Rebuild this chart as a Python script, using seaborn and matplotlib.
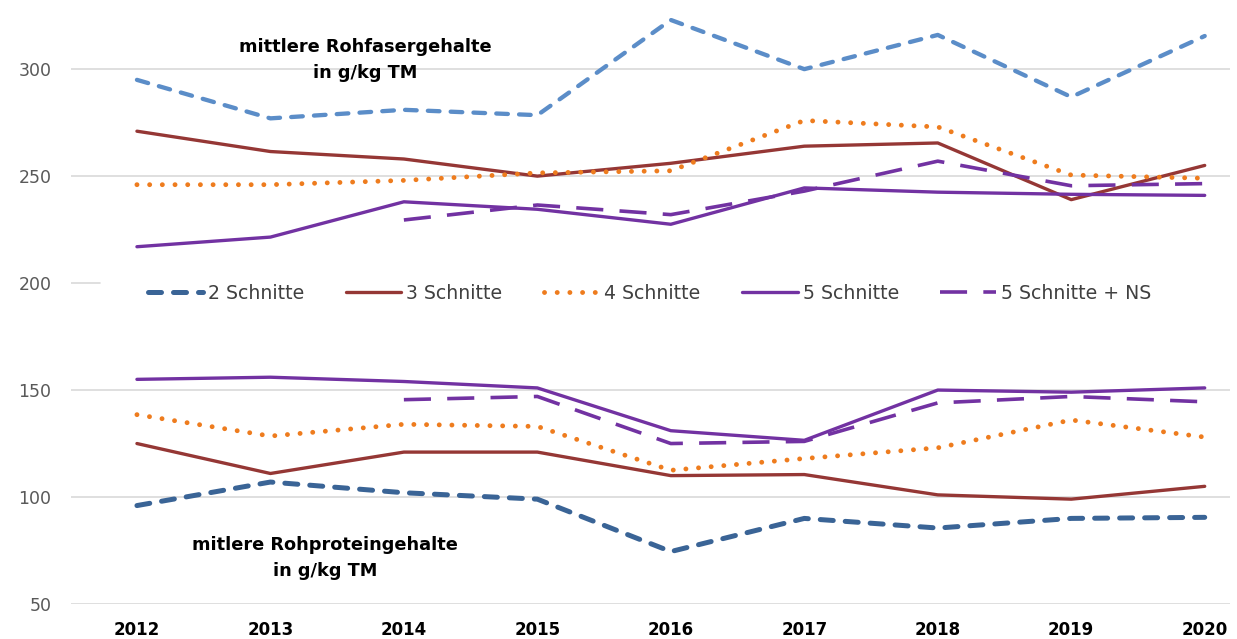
import numpy as np
import pandas as pd
import matplotlib
matplotlib.use("Agg")
import matplotlib.pyplot as plt
import seaborn as sns

years = [2012, 2013, 2014, 2015, 2016, 2017, 2018, 2019, 2020]
years_ns = [2014, 2015, 2016, 2017, 2018, 2019, 2020]

# mittlere Rohfasergehalte (g/kg TM)
faser_2 = [295, 277, 281, 278.5, 323, 300, 316, 287, 315.5]
faser_3 = [271, 261.5, 258, 250, 256, 264, 265.5, 239, 255]
faser_4 = [246, 246, 248, 251.5, 252.5, 276, 273, 250.5, 249]
faser_5 = [217, 221.5, 238, 234.5, 227.5, 244.5, 242.5, 241.5, 241]
faser_5ns = [229.5, 236.5, 232, 243, 257, 245.5, 246.5]

# mitlere Rohproteingehalte (g/kg TM)
prot_2 = [96, 107, 102, 99, 74.5, 90, 85.5, 90, 90.5]
prot_3 = [125, 111, 121, 121, 110, 110.5, 101, 99, 105]
prot_4 = [138.5, 128.5, 134, 133, 112.5, 118, 123, 136, 128]
prot_5 = [155, 156, 154, 151, 131, 126.5, 150, 149, 151]
prot_5ns = [145.5, 147, 125, 126, 144, 147, 144.5]

labels = ["2 Schnitte", "3 Schnitte", "4 Schnitte", "5 Schnitte", "5 Schnitte + NS"]
ytick_vals = [50, 100, 150, 200, 250, 300]

sns.set_theme(style="white")
plt.rcParams["font.family"] = ["DejaVu Sans"]

fig = plt.figure(figsize=(12.37, 6.39), dpi=100)
ax = fig.add_axes([0.0574, 0.0548, 0.937, 0.9374])

blue_light = "#5B8DC8"
blue_dark = "#3A6496"
red = "#953735"
orange = "#EE7C1E"
purple = "#7232A2"

styles = {
    "2d": dict(lw=3.6, dashes=(2.6, 2.4), dash_capstyle="round"),
    "2l": dict(lw=3.1, dashes=(2.7, 2.6), dash_capstyle="round"),
    "3": dict(lw=2.4, dashes=(None, None)),
    "4": dict(lw=3.5, dashes=(0.01, 2.6), dash_capstyle="round"),
    "5": dict(lw=2.4, dashes=(None, None)),
    "5ns": dict(lw=2.6, dashes=(7.5, 4.5), dash_capstyle="butt"),
}

def draw(x, y, color, key, label=None):
    st = styles[key]
    sns.lineplot(x=x, y=y, ax=ax, color=color, linewidth=st["lw"], label=label,
                 legend=False)
    l = ax.lines[-1]
    if st["dashes"][0] is not None:
        l.set_dashes(st["dashes"])
    if "dash_capstyle" in st:
        l.set_dash_capstyle(st["dash_capstyle"])
    l.set_solid_capstyle("round")
    return l

handles = []
handles.append(draw(years, prot_2, blue_dark, "2d", labels[0]))
handles.append(draw(years, prot_3, red, "3", labels[1]))
handles.append(draw(years, prot_4, orange, "4", labels[2]))
handles.append(draw(years, prot_5, purple, "5", labels[3]))
handles.append(draw(years_ns, prot_5ns, purple, "5ns", labels[4]))
draw(years, faser_2, blue_light, "2l")
draw(years, faser_3, red, "3")
draw(years, faser_4, orange, "4")
draw(years, faser_5, purple, "5")
draw(years_ns, faser_5ns, purple, "5ns")

ax.set_xlim(2011.506, 2020.19)
ax.set_ylim(50, 330)
ax.set_yticks(ytick_vals)
ax.set_xticks(years)
ax.set_xticklabels([str(y) for y in years], fontsize=12, fontweight="bold", color="black")
ax.tick_params(axis="y", labelsize=12.5, labelcolor="#595959", length=0, pad=14)
ax.tick_params(axis="x", length=0, pad=12)
ax.set_xlabel("")
ax.set_ylabel("")
ax.grid(axis="y", color="#D9D9D9", linewidth=1.2)
ax.grid(axis="x", visible=False)
for s in ax.spines.values():
    s.set_visible(False)

# the 200 gridline is hidden behind the legend band in the original
for tick in ax.yaxis.get_major_ticks():
    if abs(tick.get_loc() - 200) < 1e-6:
        tick.gridline.set_xdata([0, 0.025])

leg = ax.legend(handles=handles, labels=labels, ncol=5, loc="center left",
                bbox_to_anchor=(0.066, 0.519), frameon=False,
                fontsize=13.6, handlelength=2.95, handletextpad=0.25,
                columnspacing=2.2, borderaxespad=0, borderpad=0)
for t in leg.get_texts():
    t.set_color("#404040")

ax.text(0.2537, 0.908, "mittlere Rohfasergehalte\nin g/kg TM", transform=ax.transAxes,
        ha="center", va="center", fontsize=12.8, fontweight="bold", linespacing=1.6,
        color="black")
ax.text(0.219, 0.0768, "mitlere Rohproteingehalte\nin g/kg TM", transform=ax.transAxes,
        ha="center", va="center", fontsize=12.8, fontweight="bold", linespacing=1.6,
        color="black")

fig.savefig("out.png", dpi=100, facecolor="white")
